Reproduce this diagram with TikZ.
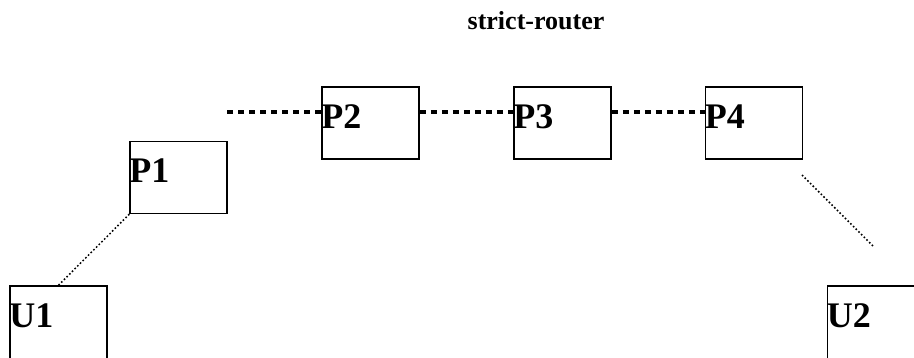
\documentclass[tikz,border=0pt]{standalone}
\usepackage{fontspec}
\setmainfont{Liberation Serif}

\tikzset{
  box/.style={draw,line width=1.5pt,minimum width=97pt,minimum height=72pt,inner sep=0pt},
  lbl/.style={font=\fontsize{36}{36}\selectfont\bfseries,inner sep=0pt,anchor=base west},
  ttl/.style={font=\fontsize{26}{26}\selectfont\bfseries,inner sep=0pt,anchor=base},
  thickdash/.style={line width=4pt,dash pattern=on 6pt off 5pt},
  thindot/.style={line width=1.5pt,dash pattern=on 1.6pt off 2.2pt}
}

\begin{document}
\begin{tikzpicture}[x=1pt,y=1pt]
  \useasboundingbox (0,0) rectangle (914,358);
  \node[ttl] (title) at (536,328) {strict-router};
  % boxes
  \node[box,minimum height=76pt] (u1) at (58.5,34) {};
  \node[box] (p1) at (178.5,180.5) {};
  \node[box] (p2) at (370.5,235) {};
  \node[box] (p3) at (562.5,235) {};
  \node[box] (p4) at (754,235) {};
  \node[box,minimum height=76pt] (u2) at (876,34) {};
  \foreach \n/\t in {u1/U1,p1/P1,p2/P2,p3/P3,p4/P4,u2/U2}
    \node[lbl] (\n lbl) at ([yshift=-42pt]\n.north west) {\t};
  % links
  \coordinate (dstart) at (227,246);
  \coordinate (dfrom) at (802,183);
  \coordinate (dto) at (874,111);
  \draw[thickdash] (dstart) -- (p2.west |- dstart);
  \draw[thickdash] (p2.east |- dstart) -- (p3.west |- dstart);
  \draw[thickdash] (p3.east |- dstart) -- (p4.west |- dstart);
  \draw[thindot] (u1.north) -- (p1.south west);
  \draw[thindot] (dfrom) -- (dto);
\end{tikzpicture}
\end{document}
